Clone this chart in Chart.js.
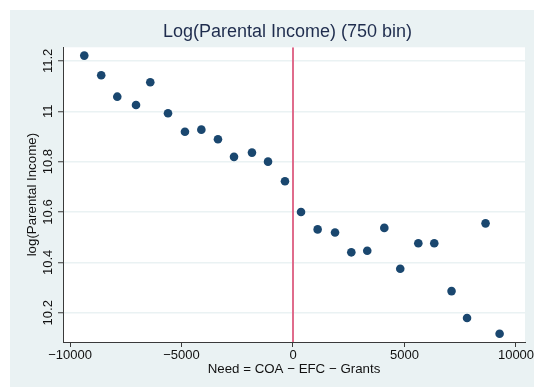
<!DOCTYPE html>
<html>
<head>
<meta charset="utf-8">
<script src="https://cdn.jsdelivr.net/npm/chart.js@4/dist/chart.umd.min.js"></script>
<style>
  html, body { margin: 0; padding: 0; background: #ffffff; }
  #wrap { width: 534px; height: 387px; }
</style>
</head>
<body>
<div id="wrap"><canvas id="c"></canvas></div>
<script>
// Binned means of log parental income by need (750-dollar bins)
const needBins = [-9360, -8600, -7880, -7040, -6400, -5605, -4845, -4110, -3365, -2645,
                  -1840, -1120, -360, 360, 1105, 1885, 2615, 3330, 4095, 4810,
                  5620, 6335, 7110, 7805, 8635, 9265];
const logIncome = [11.221, 11.143, 11.058, 11.025, 11.115, 10.992, 10.919, 10.927, 10.889, 10.819,
                   10.836, 10.800, 10.722, 10.600, 10.531, 10.519, 10.440, 10.446, 10.537, 10.375,
                   10.476, 10.476, 10.286, 10.179, 10.555, 10.117];
const xTicks = [-10000, -5000, 0, 5000, 10000];
const yTicks = [10.2, 10.4, 10.6, 10.8, 11, 11.2];
const xRange = [-10314, 10404];
const yRange = [10.084, 11.254];
const cutoff = 0;

const titleText = 'Log(Parental Income) (750 bin)';
const xTitle = 'Need = COA \u2212 EFC \u2212 Grants';
const yTitle = 'log(Parental Income)';

const FONT = '"Liberation Sans", Arial, Helvetica, sans-serif';
const regionBg = '#eaf2f3';
const axisColor = '#3a3a3a';
const textColor = '#111111';

function fmtTick(v) {
  return v < 0 ? '\u2212' + Math.abs(v) : String(v);
}

const points = needBins.map((x, i) => ({ x: x, y: logIncome[i] }));

// Backgrounds behind the plot, and all text drawn on top
const framePlugin = {
  id: 'frame',
  beforeDraw(chart) {
    const { ctx, chartArea: a } = chart;
    ctx.save();
    ctx.fillStyle = regionBg;
    ctx.fillRect(10, 10, chart.width - 10, chart.height - 10);
    ctx.fillStyle = '#ffffff';
    ctx.fillRect(a.left, a.top, a.right - a.left, a.bottom - a.top);
    ctx.restore();
  },
  afterDraw(chart) {
    const { ctx, chartArea: a } = chart;
    const xs = chart.scales.x, ys = chart.scales.y;
    ctx.save();
    // main title
    ctx.fillStyle = '#1f2d4e';
    ctx.font = '18px ' + FONT;
    ctx.textAlign = 'center';
    ctx.textBaseline = 'middle';
    ctx.fillText(titleText, 287.5, 32.5);

    // x tick labels
    ctx.fillStyle = textColor;
    ctx.font = '13px ' + FONT;
    xTicks.forEach(v => {
      ctx.fillText(fmtTick(v), xs.getPixelForValue(v), 355);
    });
    // x title
    ctx.font = '13.3px ' + FONT;
    ctx.fillText(xTitle, (a.left + a.right) / 2, 369.5);

    // y tick labels, rotated
    ctx.font = '13px ' + FONT;
    yTicks.forEach(v => {
      ctx.save();
      ctx.translate(48.5, ys.getPixelForValue(v));
      ctx.rotate(-Math.PI / 2);
      ctx.fillText(fmtTick(v), 0, 0);
      ctx.restore();
    });
    // y title
    ctx.font = '13.3px ' + FONT;
    ctx.save();
    ctx.translate(32.5, (a.top + a.bottom) / 2);
    ctx.rotate(-Math.PI / 2);
    ctx.fillText(yTitle, 0, 0);
    ctx.restore();
    ctx.restore();
  }
};

new Chart(document.getElementById('c'), {
  type: 'scatter',
  data: {
    datasets: [
      {
        type: 'line',
        data: [{ x: cutoff, y: yRange[0] }, { x: cutoff, y: yRange[1] }],
        borderColor: '#e06c8c',
        borderWidth: 2,
        pointRadius: 0,
        fill: false,
        order: 2
      },
      {
        data: points,
        backgroundColor: '#1a476f',
        borderColor: '#1a476f',
        borderWidth: 0,
        pointRadius: 4.3,
        pointHoverRadius: 4.3,
        order: 1
      }
    ]
  },
  options: {
    responsive: true,
    maintainAspectRatio: false,
    animation: false,
    layout: { padding: { left: 0, right: 9, top: 47.3, bottom: 0 } },
    plugins: {
      legend: { display: false },
      tooltip: { enabled: false },
      title: { display: false }
    },
    scales: {
      x: {
        type: 'linear',
        min: xRange[0],
        max: xRange[1],
        afterBuildTicks: s => { s.ticks = xTicks.map(v => ({ value: v })); },
        afterFit: s => { s.height = 45; },
        ticks: { display: false },
        grid: {
          drawOnChartArea: false,
          drawTicks: true,
          tickLength: 5,
          tickColor: axisColor,
          tickWidth: 1
        },
        border: { display: true, color: axisColor, width: 1 }
      },
      y: {
        type: 'linear',
        min: yRange[0],
        max: yRange[1],
        afterBuildTicks: s => { s.ticks = yTicks.map(v => ({ value: v })); },
        afterFit: s => { s.width = 63; },
        ticks: { display: false },
        grid: {
          color: regionBg,
          lineWidth: 1.5,
          drawTicks: true,
          tickLength: 5,
          tickColor: axisColor,
          tickWidth: 1
        },
        border: { display: true, color: axisColor, width: 1 }
      }
    }
  },
  plugins: [framePlugin]
});
</script>
</body>
</html>
